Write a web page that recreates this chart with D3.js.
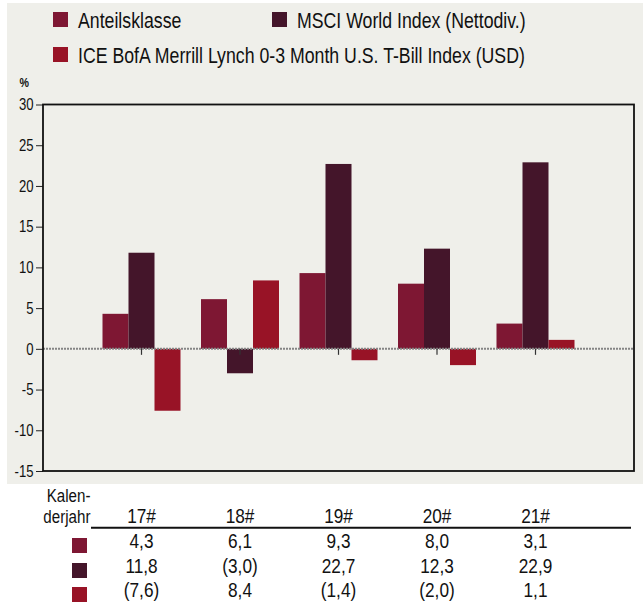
<!DOCTYPE html>
<html><head><meta charset="utf-8">
<script src="https://cdn.jsdelivr.net/npm/d3@7"></script>
<style>
html,body{margin:0;padding:0;background:#fff;}
svg{display:block;}
text{font-family:"Liberation Sans",Arial,sans-serif;fill:#111;}
</style></head>
<body>
<svg id="c" width="643" height="604"></svg>
<script>
const years = ["17#","18#","19#","20#","21#"];
const seriesNames = ["Anteilsklasse","MSCI World Index (Nettodiv.)","ICE BofA Merrill Lynch 0-3 Month U.S. T-Bill Index (USD)"];
const anteilsklasse = [4.3, 6.1, 9.3, 8.0, 3.1];
const msciWorld = [11.8, -3.0, 22.7, 12.3, 22.9];
const iceBofa = [-7.6, 8.4, -1.4, -2.0, 1.1];
const yTicks = [30,25,20,15,10,5,0,-5,-10,-15];
const colors = ["#7e1733","#44152a","#981326"];
const series = [anteilsklasse, msciWorld, iceBofa];

const NS = 0.82; // narrow font horizontal scale
const svg = d3.select("#c");
svg.append("rect").attr("x",7).attr("y",3).attr("width",636).attr("height",481).attr("fill","#efefea");

function nt(parent, px, py, str, size, anchor, weight){
  return parent.append("text")
    .attr("transform",`translate(${px},${py}) scale(${NS},1)`)
    .attr("text-anchor",anchor||"start").attr("font-size",size)
    .attr("font-weight",weight||"normal").text(str);
}

const L=43, R=634, T=104.5, B=471;
const x = d3.scaleLinear().domain([0, years.length+1]).range([L,R]);
const y = d3.scaleLinear().domain([-15,30]).range([B,T]);
const bw = 26;

// legend
const leg = [{i:0,x:53,y:12},{i:1,x:272,y:12},{i:2,x:53,y:47}];
leg.forEach(d=>{
  svg.append("rect").attr("x",d.x).attr("y",d.y).attr("width",15).attr("height",15).attr("fill",colors[d.i]);
  nt(svg, d.x+25, d.y+15.5, seriesNames[d.i], 21.6);
});
nt(svg, 19.5, 87, "%", 13, "start", "bold");

// y axis ticks
const ya = svg.append("g").attr("transform",`translate(${L},0)`).call(d3.axisLeft(y).tickValues(yTicks).tickSize(7).tickFormat(""));
ya.select(".domain").remove();
ya.selectAll("line").attr("stroke","#222");
const yl = svg.append("g");
yTicks.forEach(t=>{ nt(yl, 33.5, y(t)+5.8, String(t), 16, "end"); });

// bars
series.forEach((s,si)=>{
  svg.append("g").selectAll("rect").data(s).join("rect")
    .attr("x",(d,i)=>x(i+1)-1.5*bw+si*bw)
    .attr("width",bw)
    .attr("y",d=>y(Math.max(0,d)))
    .attr("height",d=>Math.abs(y(d)-y(0)))
    .attr("fill",colors[si]);
});

// zero line
svg.append("line").attr("x1",L).attr("x2",R).attr("y1",y(0)).attr("y2",y(0))
  .attr("stroke","#858585").attr("stroke-width",2).attr("stroke-dasharray","2,1");
// x ticks
svg.append("g").selectAll("line").data(years).join("line")
  .attr("x1",(d,i)=>x(i+1)).attr("x2",(d,i)=>x(i+1))
  .attr("y1",y(0)).attr("y2",y(0)+6).attr("stroke","#333").attr("stroke-width",1.2);

// frame
svg.append("rect").attr("x",L).attr("y",T).attr("width",R-L).attr("height",B-T)
  .attr("fill","none").attr("stroke","#111").attr("stroke-width",1.8);

// table
nt(svg, 90.5, 502, "Kalen-", 18.5, "end");
nt(svg, 90.5, 523, "derjahr", 18.5, "end");
const tg = svg.append("g");
years.forEach((d,i)=>{ nt(tg, x(i+1), 523, d, 21, "middle"); });
svg.append("line").attr("x1",91).attr("x2",631).attr("y1",527.8).attr("y2",527.8).attr("stroke","#111").attr("stroke-width",2);
const fmt = v => { const s = d3.format(".1f")(Math.abs(v)).replace(".",","); return v<0 ? "("+s+")" : s; };
const rowY = [548, 573, 597];
series.forEach((s,si)=>{
  svg.append("rect").attr("x",72).attr("y",rowY[si]-10).attr("width",15).attr("height",15).attr("fill",colors[si]);
  const g = svg.append("g");
  s.forEach((v,i)=>{ nt(g, x(i+1), rowY[si], fmt(v), 21, "middle"); });
});
</script>
</body></html>
